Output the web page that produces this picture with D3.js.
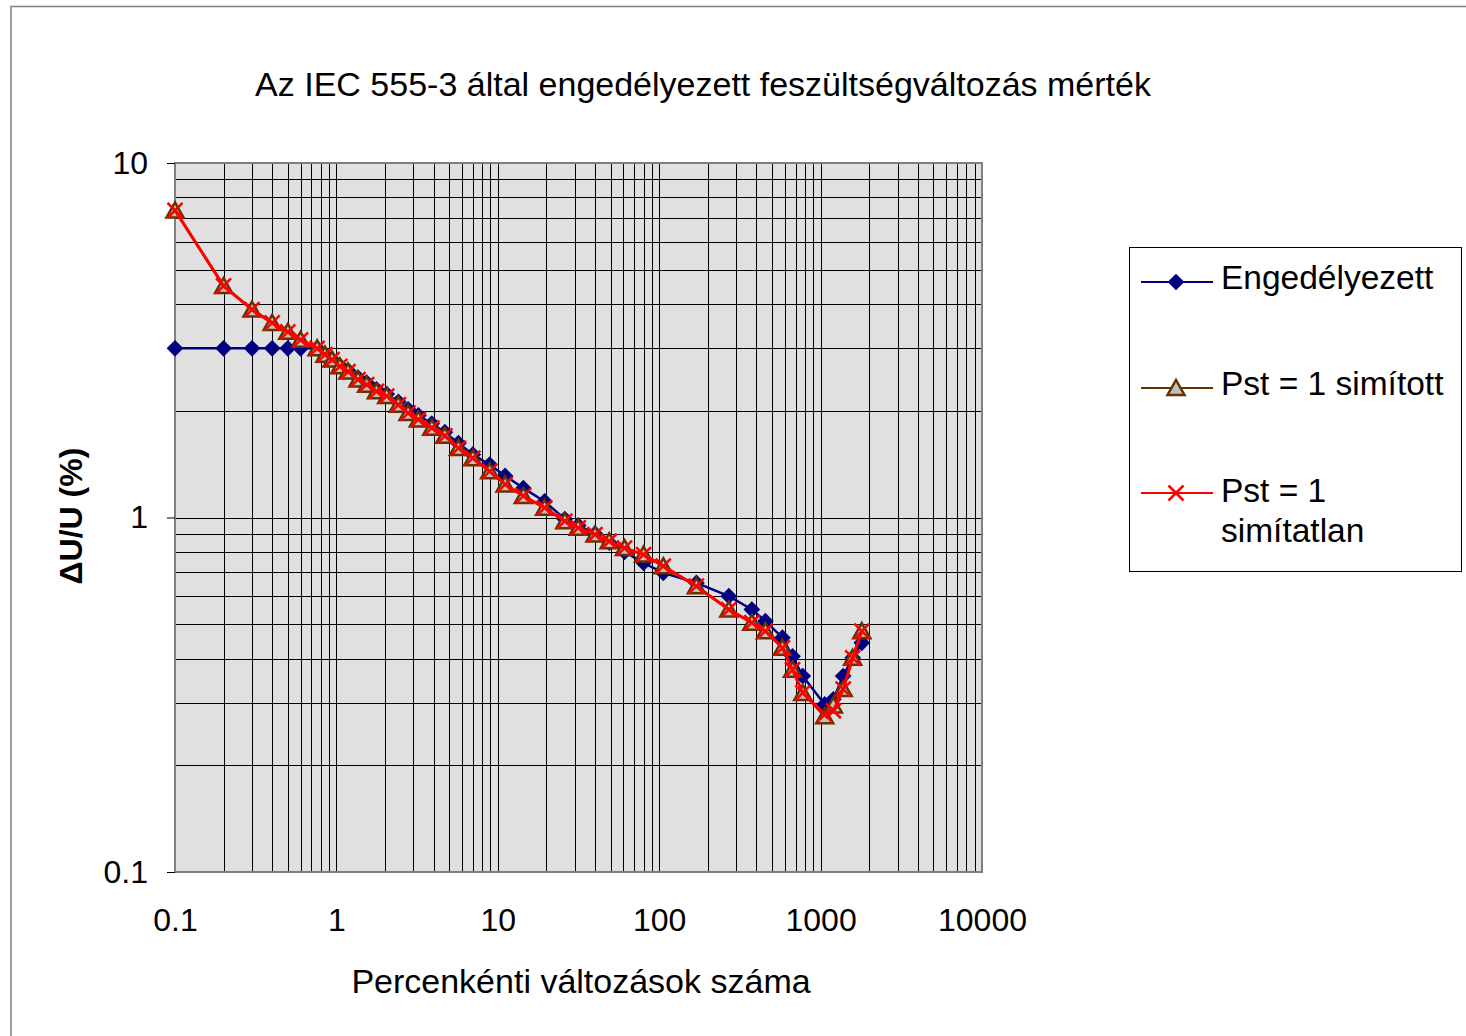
<!DOCTYPE html>
<html>
<head>
<meta charset="utf-8">
<script src="https://cdn.jsdelivr.net/npm/d3@7"></script>
<style>
  body { margin: 0; background: #fff; }
  svg { display: block; font-family: "Liberation Sans", Arial, sans-serif; }
</style>
</head>
<body>
<div id="chart"></div>
<script>
// changes per minute (shared by all series)
const rate = [0.1, 0.2, 0.3, 0.4, 0.5, 0.6, 0.76, 0.85, 0.94, 1.05, 1.18, 1.36, 1.54, 1.77, 2.05, 2.42, 2.78, 3.22, 3.9, 4.7, 5.7, 7.0, 8.9, 11.1, 14.4, 19.5, 26, 31.5, 40, 49, 61, 80, 106, 170, 270, 375, 455, 580, 670, 775, 1060, 1200, 1380, 1580, 1800];

// allowed dU/U (%)
const engedelyezett = [3.0, 3.0, 3.0, 3.0, 3.0, 3.0, 3.0, 2.88, 2.79, 2.68, 2.6, 2.48, 2.4, 2.3, 2.23, 2.12, 2.02, 1.94, 1.84, 1.74, 1.62, 1.505, 1.41, 1.31, 1.21, 1.11, 0.99, 0.95, 0.9, 0.85, 0.8, 0.745, 0.698, 0.654, 0.6, 0.55, 0.51, 0.458, 0.406, 0.357, 0.297, 0.307, 0.357, 0.402, 0.443];
const simitott = [7.35, 4.5, 3.86, 3.54, 3.34, 3.17, 3.0, 2.88, 2.79, 2.67, 2.58, 2.45, 2.37, 2.27, 2.2, 2.08, 1.97, 1.89, 1.79, 1.7, 1.57, 1.47, 1.35, 1.24, 1.15, 1.065, 0.976, 0.935, 0.895, 0.857, 0.82, 0.786, 0.729, 0.64, 0.55, 0.505, 0.478, 0.429, 0.372, 0.32, 0.275, 0.295, 0.328, 0.402, 0.478];
const simitatlan = [7.35, 4.5, 3.86, 3.54, 3.34, 3.17, 3.0, 2.88, 2.79, 2.67, 2.58, 2.45, 2.37, 2.27, 2.2, 2.08, 1.97, 1.89, 1.79, 1.7, 1.57, 1.47, 1.35, 1.24, 1.15, 1.065, 0.976, 0.935, 0.895, 0.857, 0.82, 0.786, 0.729, 0.64, 0.55, 0.505, 0.478, 0.429, 0.372, 0.32, 0.278, 0.285, 0.328, 0.402, 0.478];

const xTicks = [0.1, 1, 10, 100, 1000, 10000];
const yTicks = [0.1, 1, 10];

const W = 1466, H = 1036;
const plot = { left: 175, right: 982, top: 163, bottom: 872 };

const svg = d3.select("#chart").append("svg")
  .attr("width", W)
  .attr("height", H);

// outer chart frame (runs off the right/bottom of the picture)
svg.append("rect")
  .attr("x", 11).attr("y", 6.5)
  .attr("width", 1500).attr("height", 1100)
  .attr("fill", "none")
  .attr("stroke", "#808080")
  .attr("stroke-width", 1.5);

const x = d3.scaleLog().domain([0.1, 10000]).range([plot.left, plot.right]);
const y = d3.scaleLog().domain([0.1, 10]).range([plot.bottom, plot.top]);

// plot background
svg.append("rect")
  .attr("x", plot.left).attr("y", plot.top)
  .attr("width", plot.right - plot.left)
  .attr("height", plot.bottom - plot.top)
  .attr("fill", "#e0e0e0");

// grid lines, every 1..9 of each decade
const grid = svg.append("g").attr("stroke", "#000").attr("stroke-width", 1);
grid.selectAll(".vg").data(x.ticks()).enter().append("line")
  .attr("x1", d => Math.round(x(d)) + 0.5).attr("x2", d => Math.round(x(d)) + 0.5)
  .attr("y1", plot.top).attr("y2", plot.bottom);
grid.selectAll(".hg").data(y.ticks()).enter().append("line")
  .attr("y1", d => Math.round(y(d)) + 0.5).attr("y2", d => Math.round(y(d)) + 0.5)
  .attr("x1", plot.left).attr("x2", plot.right);

// plot border
svg.append("rect")
  .attr("x", plot.left).attr("y", plot.top)
  .attr("width", plot.right - plot.left)
  .attr("height", plot.bottom - plot.top)
  .attr("fill", "none")
  .attr("stroke", "#808080")
  .attr("stroke-width", 2);

// axes
const yAxis = svg.append("g")
  .attr("transform", `translate(${plot.left},0)`)
  .call(d3.axisLeft(y).tickValues(yTicks).tickSize(8).tickPadding(19).tickFormat(d => d));
const xAxis = svg.append("g")
  .attr("transform", `translate(0,${plot.bottom})`)
  .call(d3.axisBottom(x).tickValues(xTicks).tickSize(0).tickPadding(36).tickFormat(d => d));

[xAxis, yAxis].forEach(a => {
  a.select(".domain").remove();
  a.selectAll("text").attr("font-size", 32).attr("fill", "#000")
    .attr("font-family", "Liberation Sans, Arial, sans-serif");
  a.selectAll("line").attr("stroke", "#000");
});

// titles
svg.append("text")
  .attr("x", 703).attr("y", 96)
  .attr("text-anchor", "middle")
  .attr("font-size", 34)
  .text("Az IEC 555-3 által engedélyezett feszültségváltozás mérték");

svg.append("text")
  .attr("x", 581).attr("y", 993)
  .attr("text-anchor", "middle")
  .attr("font-size", 34)
  .text("Percenkénti változások száma");

svg.append("text")
  .attr("transform", "translate(82,516) rotate(-90)")
  .attr("text-anchor", "middle")
  .attr("font-size", 32)
  .attr("font-weight", "bold")
  .text("\u0394U/U (%)");

// markers
const diamond = d3.symbol().type(d3.symbolSquare).size(140);
const triangle = "M0,-8L8.5,7L-8.5,7Z";
const cross = "M-7.5,-7.5L7.5,7.5M-7.5,7.5L7.5,-7.5";

const series = [
  { name: "Engedélyezett", values: engedelyezett, color: "#000080", width: 2.5, mark: "diamond" },
  { name: "Pst = 1 simított", values: simitott, color: "#663300", width: 2.5, mark: "triangle" },
  { name: "Pst = 1 simítatlan", values: simitatlan, color: "#ff0000", width: 3, mark: "cross" }
];

function drawMark(g, s) {
  if (s.mark === "diamond") {
    g.append("path").attr("d", diamond()).attr("transform", "rotate(45)")
      .attr("fill", s.color);
  } else if (s.mark === "triangle") {
    g.append("path").attr("d", triangle)
      .attr("fill", "#c0c0c0").attr("stroke", s.color).attr("stroke-width", 2.5);
  } else {
    g.append("path").attr("d", cross)
      .attr("fill", "none").attr("stroke", s.color).attr("stroke-width", 2.5);
  }
}

const line = d3.line().x(d => x(d[0])).y(d => y(d[1]));

series.forEach(s => {
  const pts = rate.map((r, i) => [r, s.values[i]]);
  svg.append("path")
    .datum(pts)
    .attr("d", line)
    .attr("fill", "none")
    .attr("stroke", s.color)
    .attr("stroke-width", s.width);
  svg.append("g").selectAll("g").data(pts).enter().append("g")
    .attr("transform", d => `translate(${x(d[0])},${y(d[1])})`)
    .each(function () { drawMark(d3.select(this), s); });
});

// legend
const legend = svg.append("g");
legend.append("rect")
  .attr("x", 1129.5).attr("y", 247.5)
  .attr("width", 332).attr("height", 324)
  .attr("fill", "#fff").attr("stroke", "#000").attr("stroke-width", 1);

const legendRows = [
  { y: 282, lines: ["Engedélyezett"], base: 289 },
  { y: 388, lines: ["Pst = 1 simított"], base: 395 },
  { y: 493, lines: ["Pst = 1", "simítatlan"], base: 502 }
];
legendRows.forEach((row, i) => {
  const s = series[i];
  legend.append("line")
    .attr("x1", 1141).attr("x2", 1213)
    .attr("y1", row.y).attr("y2", row.y)
    .attr("stroke", s.color).attr("stroke-width", 2);
  const m = legend.append("g").attr("transform", `translate(1176,${row.y})`);
  drawMark(m, s);
  row.lines.forEach((t, j) => {
    legend.append("text")
      .attr("x", 1221).attr("y", row.base + j * 40)
      .attr("font-size", 33.5)
      .text(t);
  });
});
</script>
</body>
</html>
